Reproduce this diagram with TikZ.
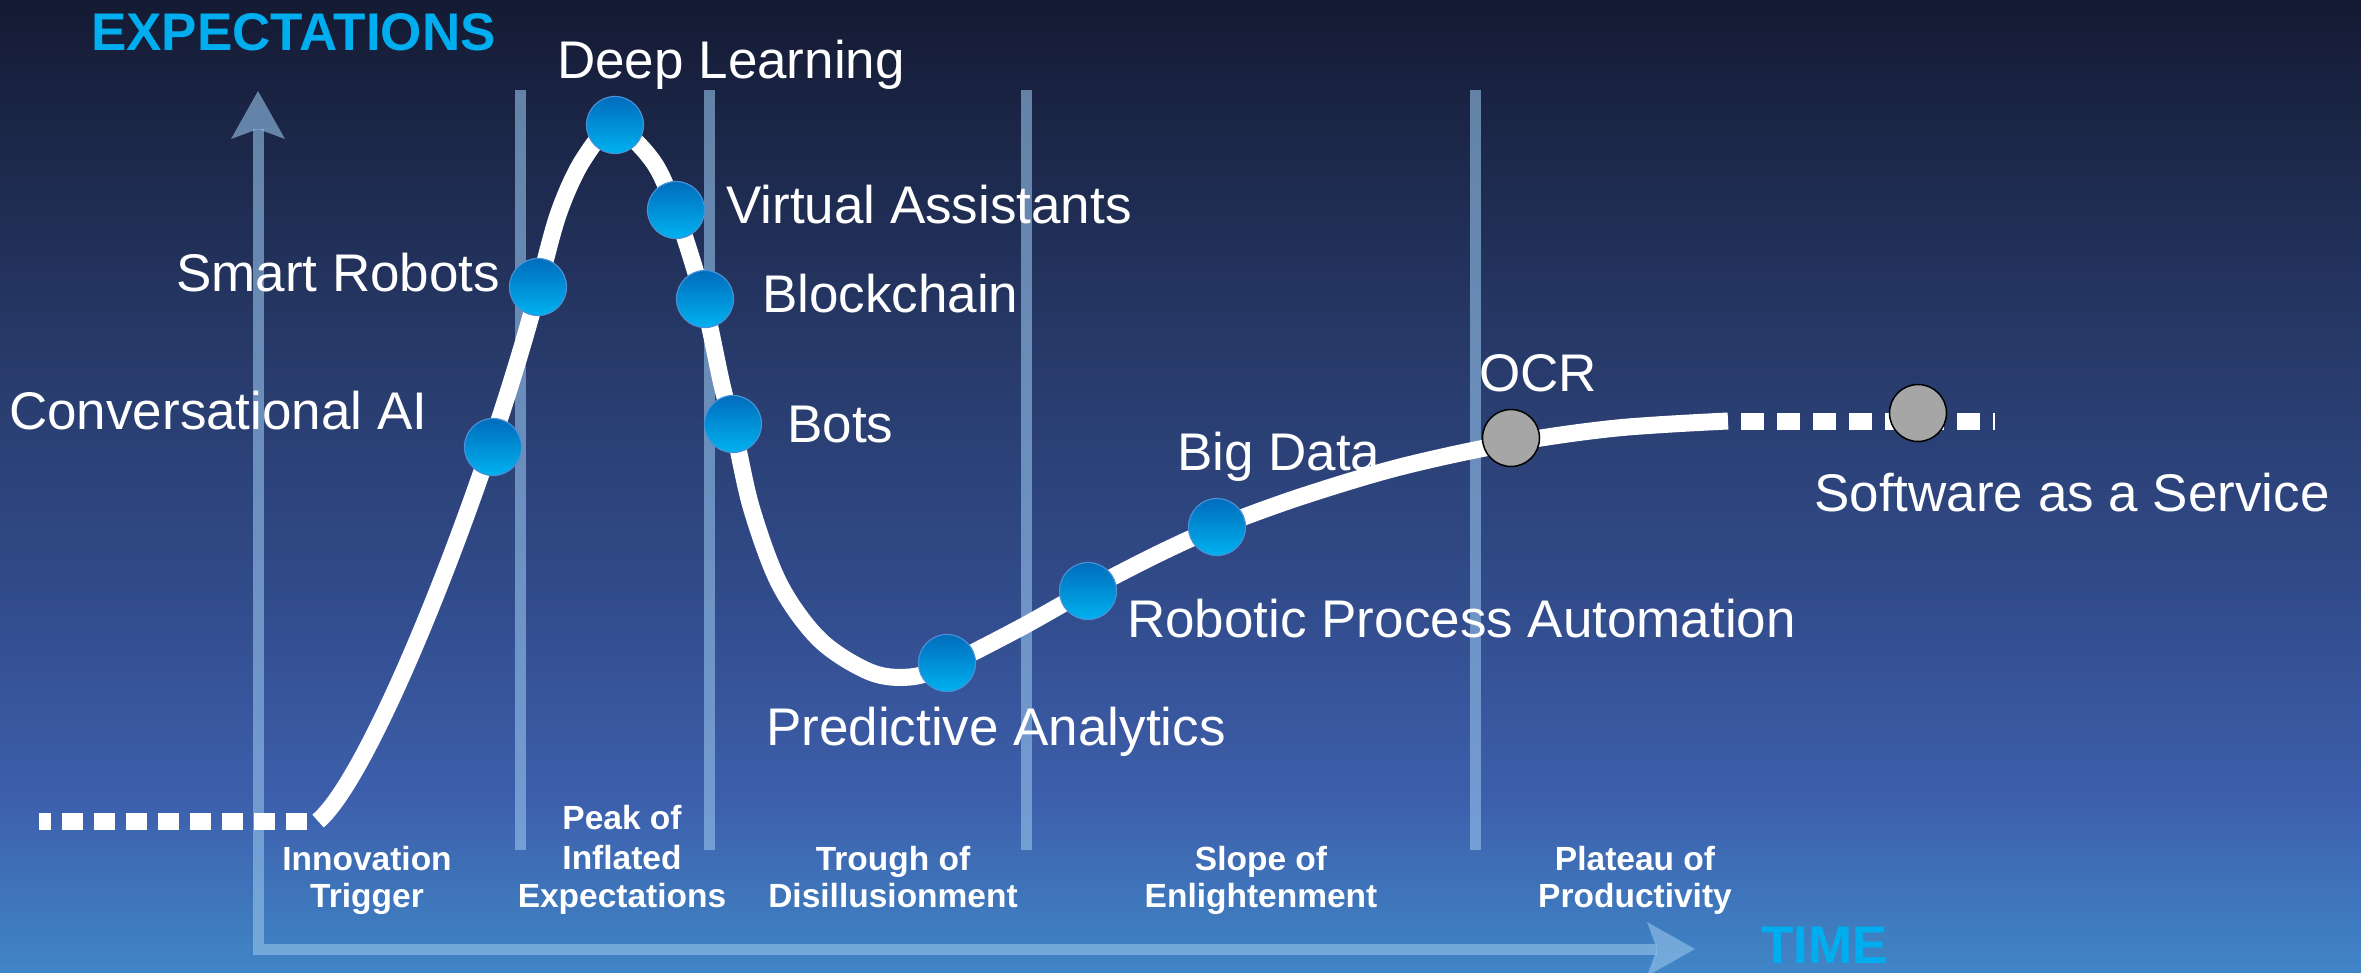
\documentclass[tikz,border=0pt]{standalone}
\usepackage{fontspec}
\setmainfont{Liberation Sans}
\definecolor{bgA}{RGB}{20,26,51}
\definecolor{bgB}{RGB}{38,56,102}
\definecolor{bgC}{RGB}{49,75,138}
\definecolor{bgD}{RGB}{61,95,172}
\definecolor{bgE}{RGB}{64,134,198}
\definecolor{axiscol}{RGB}{150,195,235}
\definecolor{cyanlbl}{RGB}{0,174,239}
\definecolor{dotTop}{RGB}{0,108,188}
\definecolor{dotBot}{RGB}{0,178,240}
\definecolor{dotRim}{RGB}{70,145,215}
\definecolor{greydotc}{RGB}{166,166,166}
\begin{document}
\begin{tikzpicture}[x=1pt,y=-1pt,
  divider/.style={draw=axiscol, opacity=0.6, line width=11pt},
  axisline/.style={divider, line join=miter},
  axishead/.style={fill=axiscol, opacity=0.6},
  curve/.style={draw=white, line width=17pt},
  dashline/.style={curve, line cap=butt},
  bluedot/.style={circle, minimum size=57pt, inner sep=0pt, top color=dotTop, bottom color=dotBot, draw=dotRim, line width=1.2pt},
  greydot/.style={circle, minimum size=57pt, inner sep=0pt, fill=greydotc, draw=black, line width=1.5pt},
  lbl/.style={text=white, inner sep=0pt, anchor=base west, font=\fontsize{53}{60}\selectfont},
  phase/.style={text=white, inner sep=0pt, anchor=base, font=\bfseries\fontsize{33.5}{40}\selectfont},
  axlbl/.style={text=cyanlbl, inner sep=0pt, anchor=base west, font=\bfseries\fontsize{53}{60}\selectfont}
]
\useasboundingbox (0,0) rectangle (2361,972);
% background
\shade[top color=bgA, bottom color=bgB] (0,0) rectangle (2361,331);
\shade[top color=bgB, bottom color=bgC] (0,330) rectangle (2361,591);
\shade[top color=bgC, bottom color=bgD] (0,590) rectangle (2361,801);
\shade[top color=bgD, bottom color=bgE] (0,800) rectangle (2361,972);

% phase dividers
\coordinate (d1t) at (520,90);  \coordinate (d1b) at (520,850);
\coordinate (d2t) at (709,90);  \coordinate (d2b) at (709,850);
\coordinate (d3t) at (1026,90); \coordinate (d3b) at (1026,850);
\coordinate (d4t) at (1475,90); \coordinate (d4b) at (1475,850);
\draw[divider] (d1t) -- (d1b);
\draw[divider] (d2t) -- (d2b);
\draw[divider] (d3t) -- (d3b);
\draw[divider] (d4t) -- (d4b);

% axes
\coordinate (ytip) at (258,91);
\coordinate (yback) at (258,129);
\coordinate (corner) at (258,949);
\coordinate (xback) at (1657,949);
\coordinate (xtip) at (1695,949);
\draw[axisline] (yback) -- (corner) -- (xback);
\fill[axishead] (ytip) -- (231,139) -- (yback) -- (285,139) -- cycle;
\fill[axishead] (xtip) -- (1647,922) -- (xback) -- (1647,976) -- cycle;

% hype curve
\coordinate (lstart) at (39,821);
\coordinate (cstart) at (318,821);
\coordinate (climb) at (538,290);
\coordinate (cend) at (1728,421);
\coordinate (rend) at (1995,421);
\draw[dashline, dash pattern=on 21pt off 11pt, dash phase=21pt] (cstart) -- (lstart);
\draw[dashline, dash pattern=on 23pt off 13pt, dash phase=23pt] (cend) -- (rend);
\draw[curve, line join=round] (cstart) .. controls (372,776) and (485,490) .. (climb)
  -- plot[smooth, tension=0.55] coordinates {
  (538,290) (558,215) (583,160) (614,128) (652,160) (676,212) (703,298) (722,385)
  (736,440) (752,510) (780,585) (820,640) (870,672) (910,677) (947,665)
  (1020,628) (1088,590) (1160,553) (1218,527) (1300,497) (1400,467)
  (1511,443) (1617,428) (1728,421)};

% technology dots
\node[bluedot] (dDL) at (615,125) {};
\node[bluedot] (dVA) at (676,210) {};
\node[bluedot] (dSR) at (538,287) {};
\node[bluedot] (dBC) at (705,299) {};
\node[bluedot] (dCA) at (493,447) {};
\node[bluedot] (dBots) at (733,424) {};
\node[bluedot] (dPA) at (947,663) {};
\node[bluedot] (dRPA) at (1088,591) {};
\node[bluedot] (dBD) at (1217,527) {};
\node[greydot] (dOCR) at (1511,438) {};
\node[greydot] (dSaaS) at (1918,413) {};

% technology labels
\node[lbl] (tDL) at (557,78) {Deep Learning};
\node[lbl] (tVA) at (726,223) {Virtual Assistants};
\node[lbl] (tSR) at (176,291) {Smart Robots};
\node[lbl] (tBC) at (762,312) {Blockchain};
\node[lbl] (tCA) at (9,429) {Conversational AI};
\node[lbl] (tBots) at (787,442) {Bots};
\node[lbl] (tPA) at (766,745) {Predictive Analytics};
\node[lbl] (tRPA) at (1127,637) {Robotic Process Automation};
\node[lbl] (tBD) at (1177,470) {Big Data};
\node[lbl] (tOCR) at (1479,391) {OCR};
\node[lbl] (tSaaS) at (1814,511) {Software as a Service};

% phase labels
\node[phase] (p1a) at (367,870) {Innovation};
\node[phase] (p1b) at (367,907) {Trigger};
\node[phase] (p2a) at (622,829) {Peak of};
\node[phase] (p2b) at (622,869) {Inflated};
\node[phase] (p2c) at (622,907) {Expectations};
\node[phase] (p3a) at (893,870) {Trough of};
\node[phase] (p3b) at (893,907) {Disillusionment};
\node[phase] (p4a) at (1261,870) {Slope of};
\node[phase] (p4b) at (1261,907) {Enlightenment};
\node[phase] (p5a) at (1635,870) {Plateau of};
\node[phase] (p5b) at (1635,907) {Productivity};

% axis labels
\node[axlbl] (yl) at (91,50) {EXPECTATIONS};
\node[axlbl] (xl) at (1761,963) {TIME};
\end{tikzpicture}
\end{document}
